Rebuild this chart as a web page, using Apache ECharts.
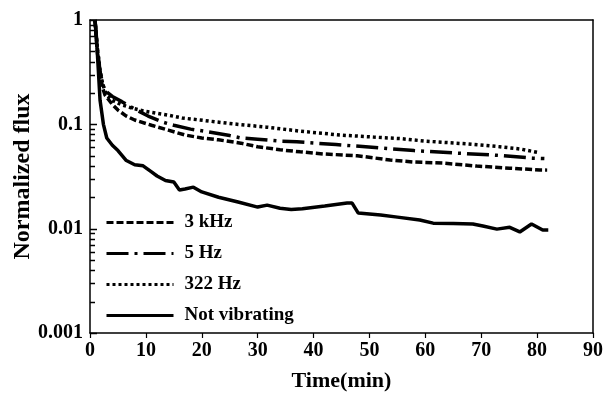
<!DOCTYPE html>
<html><head><meta charset="utf-8">
<script src="https://cdn.jsdelivr.net/npm/echarts@6/dist/echarts.min.js"></script>
<style>html,body{margin:0;padding:0;background:#fff}#c{width:605px;height:393px}</style>
</head><body><div id="c"></div>
<script>
// ---- data ----
const seriesNames = ['3 kHz', '5 Hz', '322 Hz', 'Not vibrating'];
const time3k = [0.9, 1.3, 1.8, 2.3, 2.7, 4, 5, 6.5, 8, 11, 14, 17, 20, 23, 27, 30, 34, 37.6, 41.7, 47.8, 53.7, 57.8, 63.2, 69.2, 75.1, 80.5, 81.8];
const flux3k = [1.0, 0.5, 0.3, 0.22, 0.19, 0.155, 0.137, 0.12, 0.11, 0.098, 0.088, 0.079, 0.074, 0.071, 0.066, 0.061, 0.057, 0.0545, 0.052, 0.050, 0.0455, 0.0436, 0.0425, 0.0398, 0.038, 0.0365, 0.0364];
const time5 = [0.9, 1.3, 1.8, 2.3, 2.7, 4, 5.7, 8, 10.4, 13, 15, 18, 21, 25, 27, 30, 34, 37, 44, 51, 58, 65.6, 72.8, 79.2, 81.3];
const flux5 = [1.0, 0.55, 0.32, 0.24, 0.21, 0.185, 0.165, 0.14, 0.12, 0.105, 0.098, 0.09, 0.085, 0.078, 0.074, 0.072, 0.069, 0.068, 0.064, 0.060, 0.056, 0.053, 0.0505, 0.0474, 0.047];
const time322 = [0.9, 1.3, 1.8, 2.3, 3, 4, 5.5, 7.7, 10, 13.8, 16.5, 19.7, 25.6, 31.6, 37.6, 44.7, 50.7, 55.5, 60, 67.4, 73.3, 77, 80];
const flux322 = [1.0, 0.55, 0.33, 0.24, 0.19, 0.17, 0.155, 0.142, 0.133, 0.123, 0.115, 0.110, 0.101, 0.094, 0.086, 0.079, 0.0755, 0.073, 0.069, 0.065, 0.061, 0.058, 0.054];
const timeNV = [0.9, 1.3, 1.8, 2.4, 3.0, 4.0, 5.0, 6.5, 8.0, 9.5, 11, 12, 13.5, 15, 16, 17, 18.5, 20, 23, 26.5, 30, 31.7, 34, 36, 38, 42, 46, 46.9, 48, 52, 55, 59, 61.4, 65, 68.5, 70.3, 72.8, 75.1, 76.9, 79, 81, 82];
const fluxNV = [1.0, 0.5, 0.17, 0.1, 0.074, 0.063, 0.056, 0.045, 0.041, 0.040, 0.035, 0.032, 0.029, 0.028, 0.0235, 0.024, 0.025, 0.0225, 0.020, 0.018, 0.0161, 0.0168, 0.0157, 0.0153, 0.0155, 0.0165, 0.0176, 0.0176, 0.0141, 0.0135, 0.0129, 0.0121, 0.0113, 0.0112, 0.0111, 0.0106, 0.0099, 0.0103, 0.0093, 0.0111, 0.0097, 0.0097];
const xTicks = [0, 10, 20, 30, 40, 50, 60, 70, 80, 90];
const yTickValues = [0.001, 0.01, 0.1, 1];
const yTickLabels = ['0.001', '0.01', '0.1', '1'];
const yMinorTicks = [0.002,0.003,0.004,0.005,0.006,0.007,0.008,0.009,0.02,0.03,0.04,0.05,0.06,0.07,0.08,0.09,0.2,0.3,0.4,0.5,0.6,0.7,0.8,0.9];

const zip = (a, b) => a.map((t, i) => [t, b[i]]);
const font = '"Liberation Serif", "Times New Roman", serif';
const chart = echarts.init(document.getElementById('c'), null, {renderer: 'canvas'});

function lineSeries(name, t, v, dash) {
  return {name: name, type: 'line', data: zip(t, v), symbol: 'none', z: 3,
    lineStyle: {color: '#000', width: 3.5, type: dash}, itemStyle: {color: '#000'}};
}

chart.setOption({
  animation: false,
  backgroundColor: '#fff',
  grid: {left: 90, top: 20, right: 12, bottom: 60, containLabel: false, outerBoundsMode: 'none'},
  legend: {
    orient: 'vertical', left: 100, top: 208,
    itemWidth: 67, itemHeight: 14, itemGap: 12,
    data: seriesNames,
    itemStyle: {opacity: 0},
    lineStyle: {width: 3},
    textStyle: {fontFamily: font, fontWeight: 'bold', fontSize: 19, color: '#000', padding: [0, 0, 0, 6], lineHeight: 18}
  },
  xAxis: [{
    type: 'value', min: xTicks[0], max: xTicks[xTicks.length - 1], interval: 10,
    name: 'Time(min)', nameLocation: 'middle', nameGap: 37, nameMoveOverlap: false,
    nameTextStyle: {fontFamily: font, fontWeight: 'bold', fontSize: 22, color: '#000'},
    axisLine: {lineStyle: {color: '#000', width: 1.5}},
    axisTick: {inside: false, length: 5, lineStyle: {color: '#000', width: 1.2}},
    axisLabel: {fontFamily: font, fontWeight: 'bold', fontSize: 20, color: '#000', margin: 8},
    splitLine: {show: false}
  }, {
    type: 'value', position: 'top', min: 0, max: 90,
    axisLine: {show: true, onZero: false, lineStyle: {color: '#000', width: 1.5}},
    axisTick: {show: false}, axisLabel: {show: false}, splitLine: {show: false}
  }],
  yAxis: [{
    type: 'log', logBase: 10, min: 0.001, max: 1,
    name: 'Normalized flux', nameLocation: 'middle', nameGap: 55, nameRotate: 90, nameMoveOverlap: false,
    nameTextStyle: {fontFamily: font, fontWeight: 'bold', fontSize: 24, color: '#000'},
    axisLine: {show: true, lineStyle: {color: '#000', width: 1.5}},
    axisTick: {show: false},
    axisLabel: {
      fontFamily: font, fontWeight: 'bold', fontSize: 20, color: '#000', margin: 7,
      formatter: v => {
        const i = yTickValues.findIndex(t => Math.abs(Math.log10(t) - Math.log10(v)) < 1e-6);
        return i >= 0 ? yTickLabels[i] : '';
      }
    },
    splitLine: {show: false}
  }, {
    type: 'log', position: 'right', min: 0.001, max: 1,
    axisLine: {show: true, onZero: false, lineStyle: {color: '#000', width: 1.5}},
    axisTick: {show: false}, axisLabel: {show: false}, splitLine: {show: false}
  }],
  series: [
    lineSeries('3 kHz', time3k, flux3k, [7, 3]),
    lineSeries('5 Hz', time5, flux5, [22, 6, 3, 6]),
    lineSeries('322 Hz', time322, flux322, [3, 3]),
    lineSeries('Not vibrating', timeNV, fluxNV, 'solid')
  ]
});

// y-axis ticks (inside), placed through the library's own log scale
const x0 = chart.convertToPixel({xAxisIndex: 0}, xTicks[0]);
const tickEls = [];
yTickValues.forEach(v => {
  const y = Math.round(chart.convertToPixel({yAxisIndex: 0}, v)) + 0.5;
  tickEls.push({type: 'line', z: 50, shape: {x1: x0, y1: y, x2: x0 + 7, y2: y}, style: {stroke: '#000', lineWidth: 1.5}});
});
yMinorTicks.forEach(v => {
  const y = Math.round(chart.convertToPixel({yAxisIndex: 0}, v)) + 0.5;
  tickEls.push({type: 'line', z: 50, shape: {x1: x0, y1: y, x2: x0 + 5, y2: y}, style: {stroke: '#000', lineWidth: 1.5}});
});
chart.setOption({graphic: {elements: tickEls}});
</script></body></html>
